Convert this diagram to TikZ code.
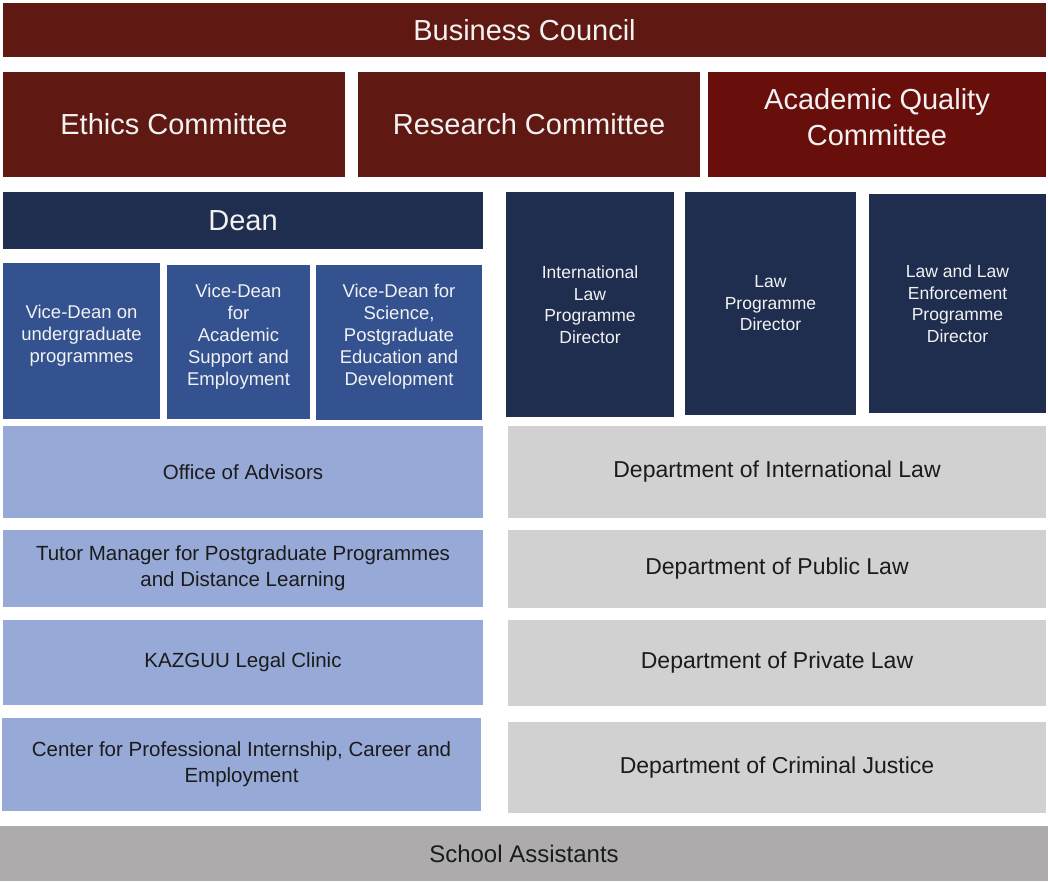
\documentclass[tikz,border=0pt]{standalone}
\usepackage{fontspec}
\setmainfont{Liberation Sans}
\definecolor{cred}{HTML}{5F1912}
\definecolor{cred2}{HTML}{690F0B}
\definecolor{cnavy}{HTML}{1F2D4F}
\definecolor{cvd}{HTML}{33528F}
\definecolor{clblue}{HTML}{96A9D7}
\definecolor{clgray}{HTML}{D1D1D1}
\definecolor{cmgray}{HTML}{ADABAB}
\definecolor{ctxtlight}{HTML}{F2F2F2}
\definecolor{ctxtdark}{HTML}{1B1B1B}
\begin{document}
\begin{tikzpicture}[x=1pt,y=-1pt,
  box/.style={inner sep=0pt,outer sep=0pt,align=center,anchor=center},
  big/.style={box,text=ctxtlight,font=\fontsize{29}{36}\selectfont},
  bigtext/.style={inner sep=0pt,align=center,text=ctxtlight,font=\fontsize{29}{36}\selectfont},
  vdbox/.style={box,fill=cvd},
  vdtext/.style={inner sep=0pt,align=center,text=ctxtlight,font=\fontsize{18.5}{22}\selectfont},
  dirbox/.style={box,fill=cnavy,text=ctxtlight,font=\fontsize{17.5}{21.5}\selectfont},
  leftbox/.style={box,fill=clblue,text=ctxtdark,font=\fontsize{20.5}{26}\selectfont},
  rightbox/.style={box,fill=clgray,text=ctxtdark,font=\fontsize{23}{28}\selectfont},
  sz/.style 2 args={minimum width=#1pt,minimum height=#2pt}]
\useasboundingbox (0,0) rectangle (1048,881);
\fill[white] (0,0) rectangle (1048,881);

% top rows
\node[big,fill=cred,sz={1043}{54}] (bc) at (524.5,30) {Business Council};
\node[big,fill=cred,sz={342}{105}] (ethics) at (174,124.5) {Ethics Committee};
\node[big,fill=cred,sz={342}{105}] (research) at (529,124.5) {Research Committee};
\node[box,fill=cred2,sz={338}{105}] (aqc) at (877,124.5) {};
\node[bigtext] (aqct) at ([yshift=7pt]aqc.center) {Academic Quality\\Committee};

% Dean
\node[big,fill=cnavy,sz={480}{57}] (dean) at (243,220.5) {Dean};

% Vice-Deans
\node[vdbox,sz={157}{156}] (vd1) at (81.5,341) {};
\node[vdbox,sz={143}{154}] (vd2) at (238.5,342) {};
\node[vdbox,sz={166}{155}] (vd3) at (399,342.5) {};
\node[vdtext] (vd1t) at ([yshift=5pt]vd1.center) {Vice-Dean on\\undergraduate\\programmes};
\node[vdtext] (vd2t) at ([yshift=5pt]vd2.center) {Vice-Dean\\for\\Academic\\Support and\\Employment};
\node[vdtext] (vd3t) at ([yshift=6pt]vd3.center) {Vice-Dean for\\Science,\\Postgraduate\\Education and\\Development};

% Programme directors
\node[dirbox,sz={168}{225}] (dir1) at (590,304.5) {International\\Law\\Programme\\Director};
\node[dirbox,sz={171}{223}] (dir2) at (770.5,303.5) {Law\\Programme\\Director};
\node[dirbox,sz={177}{219}] (dir3) at (957.5,303.5) {Law and Law\\Enforcement\\Programme\\Director};

% left column
\node[leftbox,sz={480}{92}] (office) at (243,472) {Office of Advisors};
\node[leftbox,sz={480}{77}] (tutor) at (243,568.5) {Tutor Manager for Postgraduate Programmes\\and Distance Learning};
\node[leftbox,sz={480}{85}] (clinic) at (243,662.5) {KAZGUU Legal Clinic};
\node[leftbox,sz={479}{93}] (center) at (241.5,764.5) {Center for Professional Internship, Career and\\Employment};

% right column
\node[rightbox,sz={538}{92}] (dintl) at (777,472) {Department of International Law};
\node[rightbox,sz={538}{78}] (dpub) at (777,569) {Department of Public Law};
\node[rightbox,sz={538}{86}] (dpriv) at (777,663) {Department of Private Law};
\node[rightbox,sz={538}{91}] (dcrim) at (777,767.5) {Department of Criminal Justice};

% bottom
\node[box,fill=cmgray,text=ctxtdark,font=\fontsize{24}{28}\selectfont,sz={1048}{55}] (assist) at (524,853.5) {School Assistants};
\end{tikzpicture}
\end{document}
